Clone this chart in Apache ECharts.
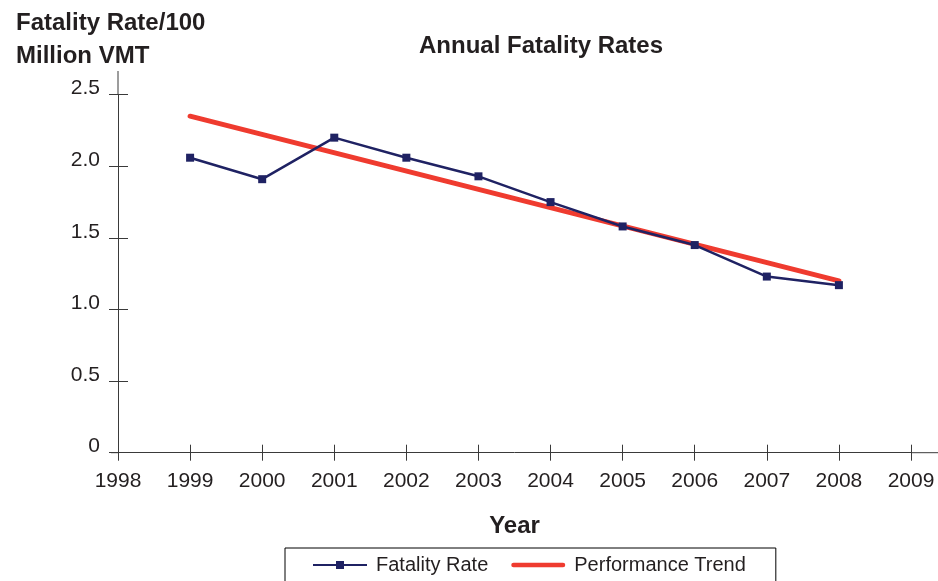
<!DOCTYPE html>
<html>
<head>
<meta charset="utf-8">
<script src="https://cdn.jsdelivr.net/npm/echarts@6/dist/echarts.min.js"></script>
<style>
  html, body { margin: 0; padding: 0; background: #fff; }
  #main { width: 938px; height: 581px; }
</style>
</head>
<body>
<div id="main"></div>
<script>
// chart data
var years = [1999, 2000, 2001, 2002, 2003, 2004, 2005, 2006, 2007, 2008];
var fatalityRate = [2.06, 1.91, 2.20, 2.06, 1.93, 1.75, 1.58, 1.45, 1.23, 1.17];
var trendYears = [1999, 2008];
var trendValues = [2.35, 1.20];
var yTicks = [0, 0.5, 1.0, 1.5, 2.0, 2.5];

var myChart = echarts.init(document.getElementById("main"));
var font = "'Liberation Sans', Arial, sans-serif";

var rateData = years.map(function (y, i) { return [y, fatalityRate[i]]; });
var trendData = trendYears.map(function (y, i) { return [y, trendValues[i]]; });

var axisColor = "#3a3a3a";
var labelColor = "#231f20";
var blue = "#1f2263";
var red = "#ef3b2f";

var option = {
  animation: false,
  title: {
    text: "Annual Fatality Rates",
    left: 536,
    textAlign: "center",
    top: 29,
    textStyle: { fontFamily: font, fontSize: 24, fontWeight: "bold", color: labelColor }
  },
  legend: {
    left: 285,
    top: 548,
    padding: [7, 30, 12, 27],
    borderColor: "#000",
    borderWidth: 1,
    itemWidth: 54,
    itemHeight: 10,
    itemGap: 23,
    textStyle: { fontFamily: font, fontSize: 20, color: labelColor, padding: [0, 0, 0, 4] },
    data: [
      { name: "Fatality Rate" },
      { name: "Performance Trend", icon: "path://M2.5,0 L57.5,0 A2.5,2.5 0 0 1 57.5,5 L2.5,5 A2.5,2.5 0 0 1 2.5,0 Z", itemStyle: { color: red } }
    ]
  },
  grid: { left: 118, right: 27, top: 94.7, bottom: 128.3 },
  xAxis: [
    {
      type: "value",
      min: 1998,
      max: 2009,
      interval: 1,
      name: "Year",
      nameLocation: "middle",
      nameGap: 62,
      nameTextStyle: { fontFamily: font, fontSize: 24, fontWeight: "bold", color: labelColor },
      splitLine: { show: false },
      axisLine: { show: true, lineStyle: { color: axisColor, width: 1 } },
      axisTick: { show: true, inside: false, length: 8, lineStyle: { color: axisColor } },
      axisLabel: {
        fontFamily: font, fontSize: 21, color: labelColor, margin: 18,
        formatter: function (v) { return String(v); }
      }
    },
    {
      type: "value",
      min: 1998,
      max: 2009,
      interval: 1,
      position: "bottom",
      splitLine: { show: false },
      axisLine: { show: false },
      axisTick: { show: true, inside: true, length: 8, lineStyle: { color: axisColor } },
      axisLabel: { show: false }
    }
  ],
  yAxis: [
    {
      type: "value",
      min: 0,
      max: 2.5,
      interval: 0.5,
      name: "Fatality Rate/100\nMillion VMT",
      nameLocation: "end",
      nameTextStyle: {
        fontFamily: font, fontSize: 24, fontWeight: "bold", color: labelColor,
        align: "left", lineHeight: 33, padding: [0, 0, 5, -102]
      },
      nameGap: 12,
      splitLine: { show: false },
      axisLine: { show: true, lineStyle: { color: axisColor, width: 1 } },
      axisTick: { show: true, inside: false, length: 9, lineStyle: { color: axisColor } },
      axisLabel: {
        fontFamily: font, fontSize: 21, color: labelColor, margin: 18,
        verticalAlign: "bottom", lineHeight: 12,
        formatter: function (v) {
          var idx = yTicks.indexOf(v);
          return v === 0 ? "0" : yTicks[idx].toFixed(1);
        }
      }
    },
    {
      type: "value",
      min: 0,
      max: 2.5,
      interval: 0.5,
      position: "left",
      splitLine: { show: false },
      axisLine: { show: false },
      axisTick: { show: true, inside: true, length: 10, lineStyle: { color: axisColor } },
      axisLabel: { show: false }
    }
  ],
  graphic: [
    // axis lines run a little past the last ticks
    { type: "line", shape: { x1: 118, y1: 71, x2: 118, y2: 95 }, style: { stroke: axisColor, lineWidth: 1 } },
    { type: "line", shape: { x1: 111, y1: 452.7, x2: 118, y2: 452.7 }, style: { stroke: axisColor, lineWidth: 1 } },
    { type: "line", shape: { x1: 911, y1: 452.7, x2: 938, y2: 452.7 }, style: { stroke: axisColor, lineWidth: 1 } }
  ],
  series: [
    {
      name: "Performance Trend",
      type: "line",
      data: trendData,
      showSymbol: false,
      symbol: "none",
      z: 2,
      lineStyle: { color: red, width: 5, cap: "round" },
      itemStyle: { color: red }
    },
    {
      name: "Fatality Rate",
      type: "line",
      data: rateData,
      symbol: "rect",
      symbolSize: 8,
      z: 3,
      lineStyle: { color: blue, width: 2.5 },
      itemStyle: { color: blue }
    }
  ]
};
myChart.setOption(option);
</script>
</body>
</html>
